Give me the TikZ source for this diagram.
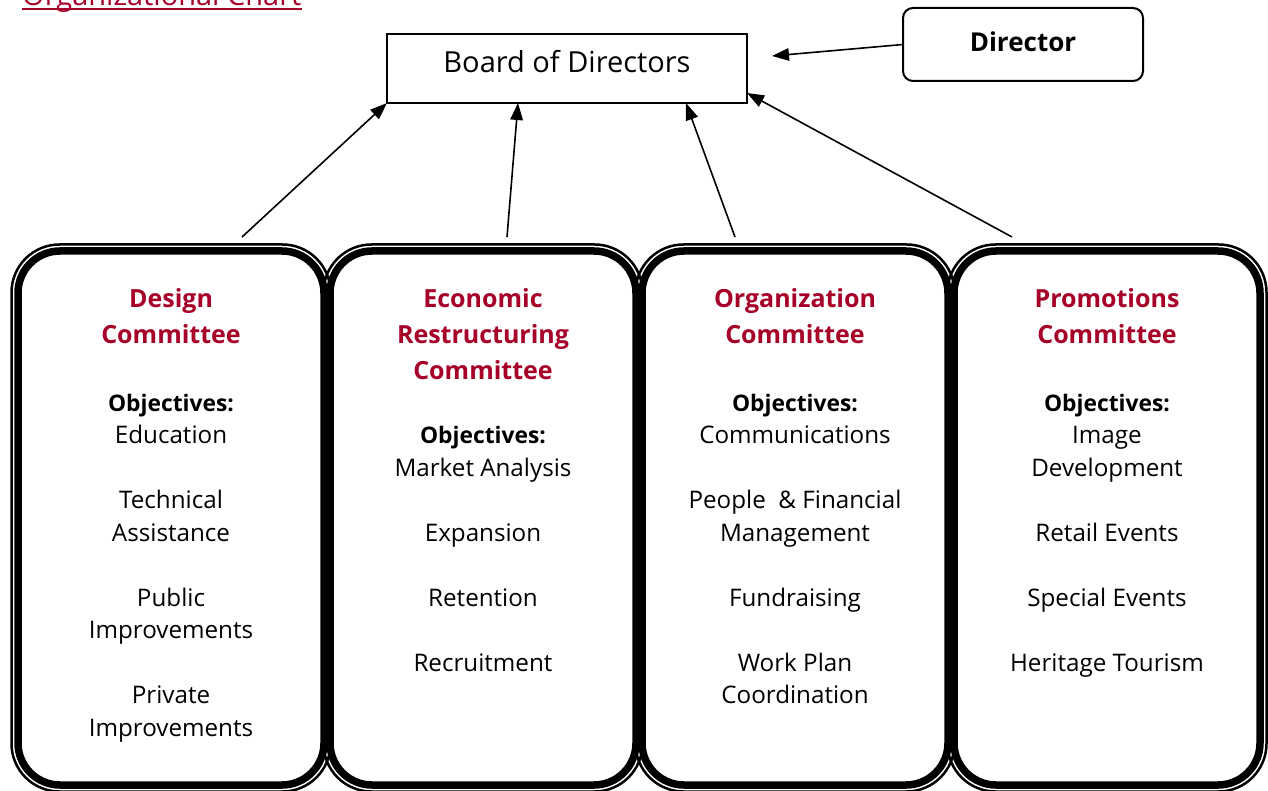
\documentclass[tikz,border=0pt]{standalone}
\usepackage{fontspec}
\setmainfont{Open Sans}
\usetikzlibrary{arrows.meta,calc}
\definecolor{hdr}{RGB}{166,0,40}
\newcommand{\objlabel}{{\fontsize{22.8}{32.5}\selectfont\bfseries Objectives:}}
\begin{document}
\begin{tikzpicture}[x=1pt,y=-1pt,
  arr/.style={-{Triangle[length=17pt,width=12.5pt]}, line width=1.6pt},
  cbox/.style={draw, line width=7.5pt, rounded corners=42pt, minimum width=306pt, minimum height=534pt, inner sep=0pt, outer sep=0pt},
  outline/.style={line width=2.5pt, rounded corners=48pt},
  hdrtext/.style={align=center, text=hdr, font=\fontsize{25}{36}\selectfont\bfseries, inner sep=0pt},
  bodytext/.style={align=center, font=\fontsize{24.2}{32.5}\selectfont, inner sep=0pt}]
\useasboundingbox (0,0) rectangle (1268,791);

% title
\node[anchor=base west, inner sep=0pt, text=hdr, font=\fontsize{29}{34}\selectfont] (title) at (22,6) {Organizational Chart};
\draw[hdr, line width=1.8pt] ($(title.base west)+(0,3)$) -- ($(title.base east)+(0,3)$);

% top boxes
\node[draw, line width=2pt, minimum width=360pt, text height=39pt, text depth=30pt, inner sep=0pt, outer sep=0pt, font=\fontsize{29}{34}\selectfont] (board) at (567,68.5) {Board of Directors};
\node[draw, line width=2pt, rounded corners=10pt, minimum width=240pt, minimum height=73pt, text height=20pt, text depth=5pt, inner sep=0pt, outer sep=0pt, font=\fontsize{26}{30}\selectfont\bfseries] (director) at (1023,44.5) {Director};

% committee boxes
\foreach \i/\cx in {1/171,2/483,3/795,4/1107}{
  \node[cbox] (c\i) at (\cx,518) {};
  \draw[outline] ($(c\i.north west)+(-6.5,-6.5)$) rectangle ($(c\i.south east)+(6.5,6.5)$);
}

% texts (base anchor = baseline of the last line)
\node[hdrtext, anchor=base] (h1) at (171,343.5) {Design\\Committee};
\node[bodytext, anchor=base] (b1) at (171,736) {\objlabel\\Education\\[32.5pt]Technical\\Assistance\\[32.5pt]Public\\Improvements\\[32.5pt]Private\\Improvements};

\node[hdrtext, anchor=base] (h2) at (483,379.5) {Economic\\Restructuring\\Committee};
\node[bodytext, anchor=base] (b2) at (483,671) {\objlabel\\Market Analysis\\[32.5pt]Expansion\\[32.5pt]Retention\\[32.5pt]Recruitment};

\node[hdrtext, anchor=base] (h3) at (795,343.5) {Organization\\Committee};
\node[bodytext, anchor=base] (b3) at (795,703.5) {\objlabel\\Communications\\[32.5pt]People\ \ \& Financial\\Management\\[32.5pt]Fundraising\\[32.5pt]Work Plan\\Coordination};

\node[hdrtext, anchor=base] (h4) at (1107,343.5) {Promotions\\Committee};
\node[bodytext, anchor=base] (b4) at (1107,671) {\objlabel\\Image\\Development\\[32.5pt]Retail Events\\[32.5pt]Special Events\\[32.5pt]Heritage Tourism};

% connectors
\coordinate (dtip) at (772,56);
\draw[arr] (director.west) -- (dtip);
\draw[arr] ($(c1.north)+(71,-14)$) -- (board.south west);
\draw[arr] ($(c2.north)+(24,-14)$) -- ($(board.south)+(-49,0)$);
\draw[arr] ($(c3.north)+(-60,-14)$) -- ($(board.south)+(119,0)$);
\draw[arr] ($(c4.north)+(-95,-14)$) -- ($(board.south east)+(0,-10)$);
\end{tikzpicture}
\end{document}
